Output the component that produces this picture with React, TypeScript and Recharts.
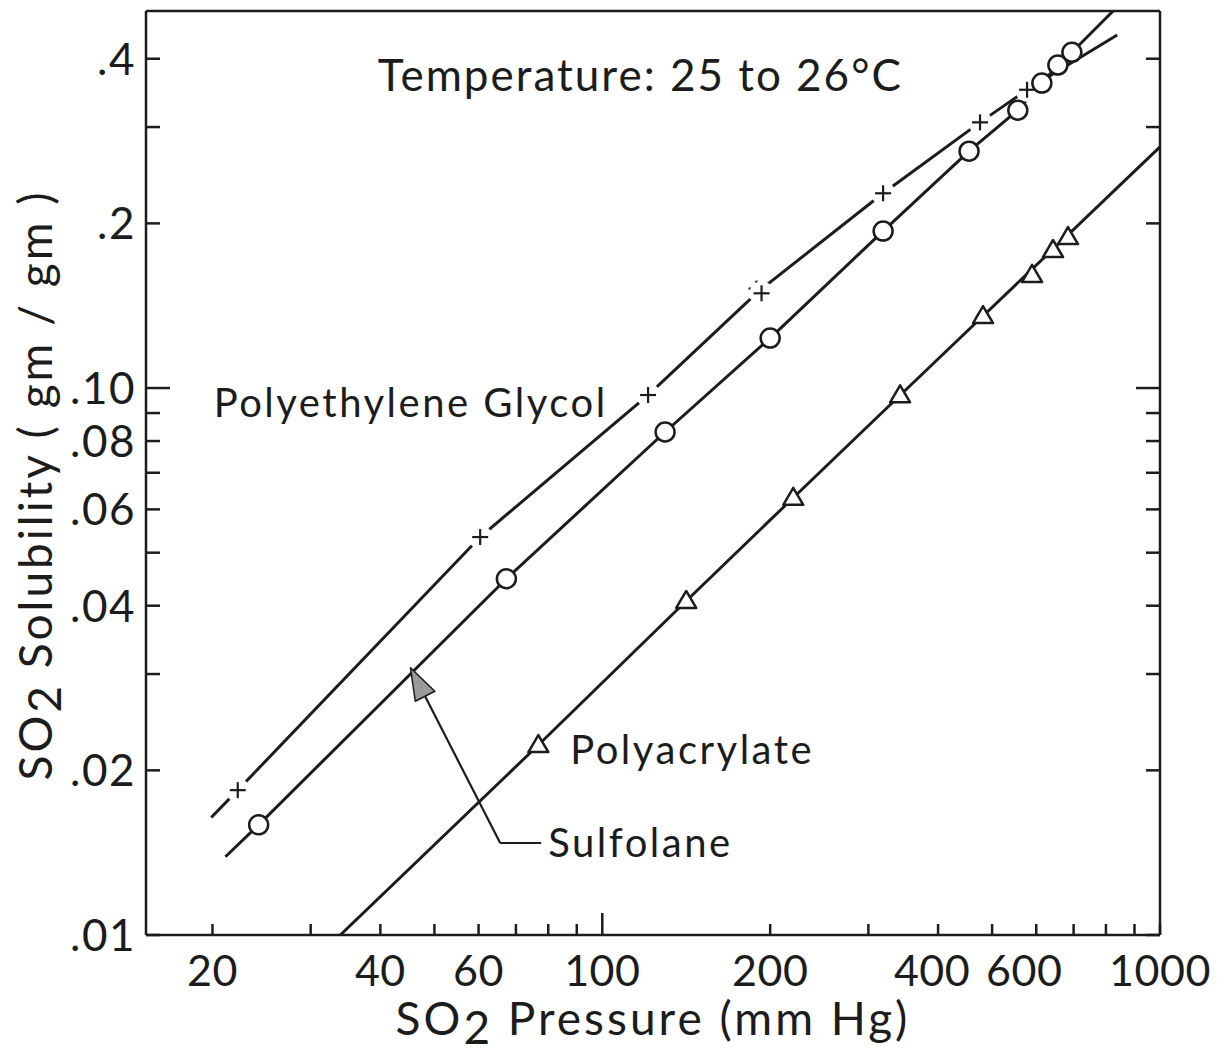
import { ComposedChart, Line, Scatter, XAxis, YAxis, ReferenceLine, ReferenceDot } from "recharts";

const FONT = "Lato, 'Open Sans', 'DejaVu Sans', sans-serif";
const INK = "#1c1c1c";

// SO2 pressure (mm Hg) / solubility (gm/gm), 25 to 26 °C

// Polyethylene glycol, measured points (+)
const pegPressure = [22.2, 60.4, 120.8, 189, 193, 318.8, 475.7, 577.6];
const pegSolubility = [0.0184, 0.0534, 0.0971, 0.152, 0.149, 0.227, 0.306, 0.351];
// Polyethylene glycol, drawn curve
const pegCurvePressure = [19.9, 22.2, 60.4, 120.8, 191, 318.8, 475.7, 577.6, 838];
const pegCurveSolubility = [0.0164, 0.0184, 0.0534, 0.0971, 0.1505, 0.227, 0.306, 0.351, 0.442];

// Sulfolane, measured points (o)
const sulPressure = [24.2, 67.3, 129.6, 200, 318.8, 454.6, 556, 614, 656, 695];
const sulSolubility = [0.0159, 0.0448, 0.0831, 0.1234, 0.1936, 0.271, 0.322, 0.361, 0.3895, 0.411];
// Sulfolane, drawn curve
const sulCurvePressure = [21.1, 24.2, 67.3, 129.6, 200, 318.8, 454.6, 556, 614, 656, 695, 824];
const sulCurveSolubility = [0.0139, 0.0159, 0.0448, 0.0831, 0.1234, 0.1936, 0.271, 0.322, 0.361, 0.3895, 0.411, 0.489];

// Polyacrylate, measured points (triangles)
const pacPressure = [76.8, 141.4, 220, 342, 481.6, 589.6, 643, 684];
const pacSolubility = [0.02225, 0.0408, 0.063, 0.097, 0.1354, 0.161, 0.1788, 0.1888];
// Polyacrylate, drawn curve
const pacCurvePressure = [33.9, 76.8, 141.4, 220, 342, 481.6, 1000];
const pacCurveSolubility = [0.01, 0.02225, 0.0408, 0.063, 0.097, 0.1354, 0.2759];

// axes
const xDomain = [15.2, 1000];
const yDomain = [0.01, 0.489];
const xTicks = [20, 30, 40, 50, 60, 70, 80, 90, 100, 200, 300, 400, 500, 600, 700, 800, 900, 1000];
const xTickLabels = [20, 40, 60, 100, 200, 400, 600, 1000];
const yTicks = [0.01, 0.02, 0.03, 0.04, 0.05, 0.06, 0.07, 0.08, 0.09, 0.1, 0.2, 0.3, 0.4];
const yTickValues = [0.01, 0.02, 0.04, 0.06, 0.08, 0.1, 0.2, 0.4];
const yTickText = [".01", ".02", ".04", ".06", ".08", ".10", ".2", ".4"];

const zip = (xs: number[], ys: number[]) => xs.map((p, i) => ({ p, s: ys[i] }));

const pegPoints = zip(pegPressure, pegSolubility);
const pegCurve = zip(pegCurvePressure, pegCurveSolubility);
const sulPoints = zip(sulPressure, sulSolubility);
const sulCurve = zip(sulCurvePressure, sulCurveSolubility);
const pacPoints = zip(pacPressure, pacSolubility);
const pacCurve = zip(pacCurvePressure, pacCurveSolubility);

const isMajor = (v: number) => Math.abs(v - 100) < 1e-6 || Math.abs(v - 0.1) < 1e-9;

const textStyle = { fill: INK, fontFamily: FONT, fontWeight: 400 };

function BottomTick({ x, y, payload }: any) {
  const v = payload.value;
  const len = isMajor(v) ? 22 : 11;
  const show = xTickLabels.includes(v);
  // 400 and 600 are crowded near 1000, nudge them left a bit
  const shift = v === 600 ? -12 : v === 400 ? -6 : 0;
  return (
    <g>
      <line x1={x} y1={y} x2={x} y2={y - len} stroke={INK} strokeWidth={2.5} />
      {show && (
        <text x={x + shift} y={y + 51} textAnchor="middle" fontSize={43} letterSpacing={0.5} {...textStyle}>
          {v}
        </text>
      )}
    </g>
  );
}

function TopTick({ x, y, payload }: any) {
  const len = isMajor(payload.value) ? 22 : 11;
  return <line x1={x} y1={y} x2={x} y2={y + len} stroke={INK} strokeWidth={2.5} />;
}

function LeftTick({ x, y, payload }: any) {
  const v = payload.value;
  const len = isMajor(v) ? 24 : 14;
  const i = yTickValues.findIndex((t) => Math.abs(t - v) < 1e-9);
  return (
    <g>
      <line x1={x} y1={y} x2={x + len} y2={y} stroke={INK} strokeWidth={2.5} />
      {i >= 0 && (
        <text x={x - 10} y={y} dy="0.36em" textAnchor="end" fontSize={44} letterSpacing={1.5} {...textStyle}>
          {yTickText[i]}
        </text>
      )}
    </g>
  );
}

function RightTick({ x, y, payload }: any) {
  const len = isMajor(payload.value) ? 24 : 14;
  return <line x1={x} y1={y} x2={x - len} y2={y} stroke={INK} strokeWidth={2.5} />;
}

function PlusMark({ cx, cy }: any) {
  return (
    <g>
      <circle cx={cx} cy={cy} r={12} fill="#fff" />
      <line x1={cx - 8} y1={cy} x2={cx + 8} y2={cy} stroke={INK} strokeWidth={2.2} />
      <line x1={cx} y1={cy - 8} x2={cx} y2={cy + 8} stroke={INK} strokeWidth={2.2} />
    </g>
  );
}

function CircleMark({ cx, cy }: any) {
  return <circle cx={cx} cy={cy} r={9.5} fill="#fff" stroke={INK} strokeWidth={2.5} />;
}

function TriangleMark({ cx, cy }: any) {
  return (
    <polygon
      points={`${cx},${cy - 10} ${cx - 10},${cy + 7} ${cx + 10},${cy + 7}`}
      fill="#fff"
      stroke={INK}
      strokeWidth={2.5}
      strokeLinejoin="round"
    />
  );
}

// text placed at a data position
const textAt = (label: string, size: number, anchor: "start" | "middle" | "end", spacing: number) =>
  ({ cx, cy }: any) => (
    <text x={cx} y={cy} dy="0.36em" textAnchor={anchor} fontSize={size} letterSpacing={spacing} {...textStyle}>
      {label}
    </text>
  );

// leader line from the Sulfolane label, with an arrowhead at its far end
function Leader({ x1, y1, x2, y2 }: any) {
  const dx = x2 - x1;
  const dy = y2 - y1;
  const len = Math.hypot(dx, dy) || 1;
  const ux = dx / len;
  const uy = dy / len;
  const bx = x2 - ux * 32;
  const by = y2 - uy * 32;
  const w = 11;
  return (
    <g>
      <line x1={x1} y1={y1} x2={bx} y2={by} stroke={INK} strokeWidth={2.2} />
      <polygon
        points={`${x2},${y2} ${bx - uy * w},${by + ux * w} ${bx + uy * w},${by - ux * w}`}
        fill="#9a9a9a"
        stroke={INK}
        strokeWidth={1.5}
        strokeLinejoin="round"
      />
    </g>
  );
}

function XTitle({ viewBox }: any) {
  const cx = viewBox.x + viewBox.width / 2;
  return (
    <text x={cx} y={1035} textAnchor="middle" fontSize={46} letterSpacing={3} {...textStyle}>
      SO
      <tspan dy={9}>2</tspan>
      <tspan dy={-9}> Pressure (mm Hg)</tspan>
    </text>
  );
}

function YTitle({ viewBox }: any) {
  const cy = viewBox.y + viewBox.height / 2;
  return (
    <text
      x={0}
      y={0}
      transform={`translate(52, ${cy + 12}) rotate(-90)`}
      textAnchor="middle"
      fontSize={46}
      letterSpacing={3}
      {...textStyle}
    >
      SO
      <tspan dy={9}>2</tspan>
      <tspan dy={-9}> Solubility ( gm / gm )</tspan>
    </text>
  );
}

export default function App() {
  return (
    <div style={{ position: "absolute", left: 0, top: 0, background: "#fff" }}>
      <ComposedChart width={1226} height={1055} margin={{ top: 0, right: 0, bottom: 0, left: 0 }}>
        <XAxis
          dataKey="p"
          type="number"
          scale="log"
          domain={xDomain}
          allowDataOverflow
          ticks={xTicks}
          interval={0}
          height={120}
          tickSize={0}
          tickMargin={0}
          tick={<BottomTick />}
          axisLine={{ stroke: INK, strokeWidth: 2.5 }}
          label={<XTitle />}
        />
        <XAxis
          xAxisId="top"
          orientation="top"
          type="number"
          scale="log"
          domain={xDomain}
          allowDataOverflow
          ticks={xTicks}
          interval={0}
          height={11}
          tickSize={0}
          tickMargin={0}
          tick={<TopTick />}
          axisLine={{ stroke: INK, strokeWidth: 2.5 }}
        />
        <YAxis
          dataKey="s"
          type="number"
          scale="log"
          domain={yDomain}
          allowDataOverflow
          ticks={yTicks}
          interval={0}
          width={146}
          tickSize={0}
          tickMargin={0}
          tick={<LeftTick />}
          axisLine={{ stroke: INK, strokeWidth: 2.5 }}
          label={<YTitle />}
        />
        <YAxis
          yAxisId="right"
          orientation="right"
          type="number"
          scale="log"
          domain={yDomain}
          allowDataOverflow
          ticks={yTicks}
          interval={0}
          width={66}
          tickSize={0}
          tickMargin={0}
          tick={<RightTick />}
          axisLine={{ stroke: INK, strokeWidth: 2.5 }}
        />

        <Line data={pegCurve} dataKey="s" type="linear" stroke={INK} strokeWidth={3} dot={false} isAnimationActive={false} />
        <Line data={sulCurve} dataKey="s" type="linear" stroke={INK} strokeWidth={3} dot={false} isAnimationActive={false} />
        <Line data={pacCurve} dataKey="s" type="linear" stroke={INK} strokeWidth={3} dot={false} isAnimationActive={false} />

        <Scatter data={pegPoints} dataKey="s" shape={<PlusMark />} isAnimationActive={false} />
        <Scatter data={sulPoints} dataKey="s" shape={<CircleMark />} isAnimationActive={false} />
        <Scatter data={pacPoints} dataKey="s" shape={<TriangleMark />} isAnimationActive={false} />

        <ReferenceLine
          segment={[{ x: 77.7, y: 0.01473 }, { x: 65.6, y: 0.01473 }]}
          stroke={INK}
          strokeWidth={2.2}
          ifOverflow="visible"
        />
        <ReferenceLine
          segment={[{ x: 65.6, y: 0.01473 }, { x: 45.3, y: 0.0308 }]}
          shape={<Leader />}
          ifOverflow="visible"
        />

        <ReferenceDot x={117} y={0.373} r={0} ifOverflow="visible" shape={textAt("Temperature: 25 to 26°C", 44, "middle", 2)} />
        <ReferenceDot x={20.1} y={0.0939} r={0} ifOverflow="visible" shape={textAt("Polyethylene Glycol", 40, "start", 2.5)} />
        <ReferenceDot x={87.6} y={0.0218} r={0} ifOverflow="visible" shape={textAt("Polyacrylate", 40, "start", 2.5)} />
        <ReferenceDot x={80} y={0.01473} r={0} ifOverflow="visible" shape={textAt("Sulfolane", 40, "start", 2.5)} />
      </ComposedChart>
    </div>
  );
}
